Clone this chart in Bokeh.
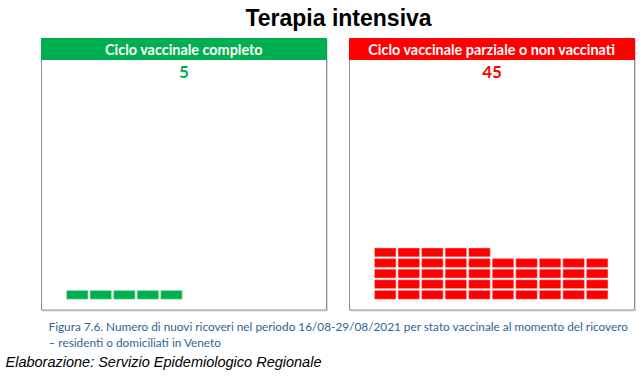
from bokeh.plotting import figure
from bokeh.models import Range1d
from bokeh.core.properties import value
from bokeh.embed import file_html
from bokeh.resources import INLINE

# ---- data ----
title = "Terapia intensiva"
groups = ["Ciclo vaccinale completo", "Ciclo vaccinale parziale o non vaccinati"]
counts = [5, 45]
colors = ["#00b050", "#ff0000"]
caption_lines = [
    "Figura 7.6. Numero di nuovi ricoveri nel periodo 16/08-29/08/2021 per stato vaccinale al momento del ricovero",
    "\u2013 residenti o domiciliati in Veneto",
]
source_note = "Elaborazione: Servizio Epidemiologico Regionale"
n_cols = 10

# ---- layout (pixels) ----
W, H = 644, 378
panel_left = [41, 349]
panel_w = 285
panel_top, panel_bottom = 38, 309.5
header_h = 21
cell_pitch_x, cell_pitch_y = 23.55, 10.6
cell_w, cell_h = 21.5, 8.8
cell_x0 = 25
cell_bottom = 298.7

p = figure(width=W, height=H, x_range=Range1d(0, W), y_range=Range1d(H, 0),
           toolbar_location=None, output_backend="svg", min_border=0)
p.axis.visible = False
p.grid.visible = False
p.outline_line_color = None
p.background_fill_color = "white"
p.border_fill_color = "white"

# title
p.text(x=[338], y=[17], text=[title], text_font=value("Liberation Sans"),
       text_font_style="bold", text_font_size="23px", text_color="black",
       text_align="center", text_baseline="middle")

for i, (g, n, c) in enumerate(zip(groups, counts, colors)):
    L = panel_left[i]
    # shadow + panel border
    p.quad(left=[L + 1], right=[L + panel_w + 1], top=[panel_top + 1], bottom=[panel_bottom + 1],
           fill_color=None, line_color="#d9d9d9", line_width=1)
    p.quad(left=[L], right=[L + panel_w], top=[panel_top], bottom=[panel_bottom],
           fill_color="white", line_color="#8c8c8c", line_width=1)
    # header
    p.quad(left=[L], right=[L + panel_w], top=[panel_top], bottom=[panel_top + header_h],
           fill_color=c, line_color=c)
    p.text(x=[L + panel_w / 2], y=[panel_top + header_h / 2 + 0.5], text=[g],
           text_font=value("Lato"), text_font_style="bold", text_font_size="14.4px",
           text_color="white", text_align="center", text_baseline="middle")
    # count
    p.text(x=[L + panel_w / 2], y=[71], text=[str(n)],
           text_font=value("Lato"), text_font_style="bold", text_font_size="17px",
           text_color=c, text_align="center", text_baseline="middle")
    # waffle cells
    xs, ys = [], []
    for k in range(n):
        row, col = divmod(k, n_cols)
        xs.append(L + cell_x0 + col * cell_pitch_x + cell_w / 2)
        ys.append(cell_bottom - row * cell_pitch_y - cell_h / 2)
    p.rect(x=xs, y=ys, width=cell_w, height=cell_h, fill_color=c,
           line_color="#f4b8b8" if i == 1 else "#b8e6c8", line_width=0.5)

# caption
for j, line in enumerate(caption_lines):
    p.text(x=[48], y=[326 + j * 15.5], text=[line], text_font=value("Lato"),
           text_font_size="11.8px", text_color="#2f6496",
           text_align="left", text_baseline="middle")

p.text(x=[5], y=[361], text=[source_note], text_font=value("Liberation Sans"),
       text_font_style="italic", text_font_size="14.5px", text_color="black",
       text_align="left", text_baseline="middle")

open("out.html", "w").write(file_html(p, INLINE))
